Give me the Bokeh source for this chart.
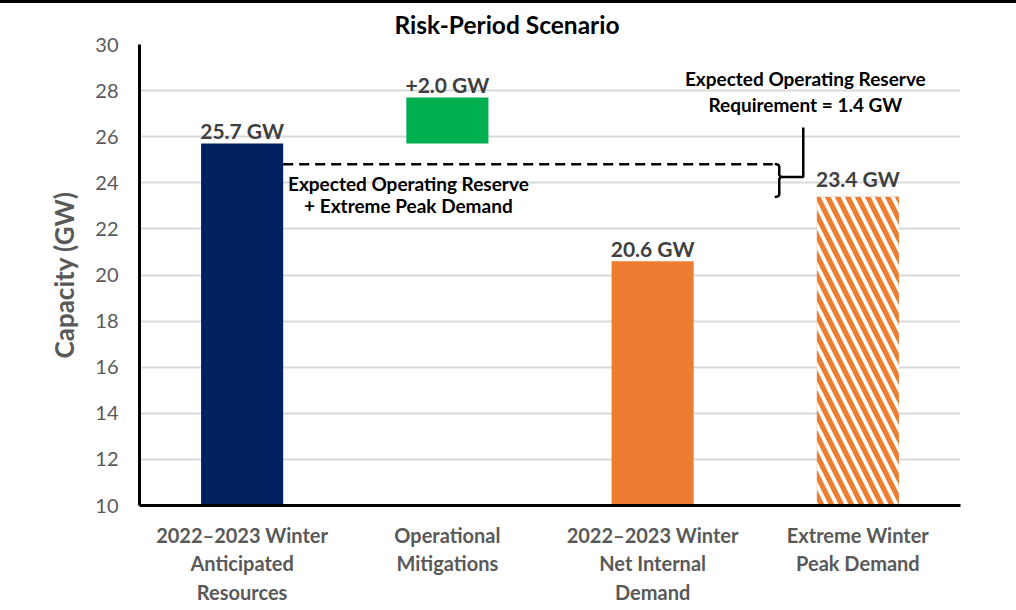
from bokeh.plotting import figure
from bokeh.models import Range1d, FixedTicker, Div, Label
from bokeh.layouts import column
from bokeh.embed import file_html
from bokeh.resources import INLINE

# ---- data ----
categories = ["2022\u20132023 Winter\nAnticipated\nResources",
              "Operational\nMitigations",
              "2022\u20132023 Winter\nNet Internal\nDemand",
              "Extreme Winter\nPeak Demand"]
bar_bottom = [10.0, 25.7, 10.0, 10.0]
bar_top = [25.7, 27.7, 20.6, 23.4]
bar_labels = ["25.7 GW", "+2.0 GW", "20.6 GW", "23.4 GW"]
reserve_requirement = 1.4
extreme_peak = 23.4
y_ticks = [10, 12, 14, 16, 18, 20, 22, 24, 26, 28, 30]

FONT = "Lato"
NAVY = "#002060"
GREEN = "#00B050"
ORANGE = "#ED7D31"
GRAY = "#595959"
DARK = "#404040"

xs = [i + 0.5 for i in range(len(categories))]
bw = 0.4

p = figure(width=1016, height=607, output_backend="svg", toolbar_location=None,
           x_range=Range1d(0, len(categories)), y_range=Range1d(10, 30),
           min_border_left=139, min_border_right=56, min_border_top=41,
           min_border_bottom=105)
p.outline_line_color = None
p.background_fill_color = "white"
p.border_fill_color = "white"

# title
p.title.text = "Risk-Period Scenario"
p.title.text_font = FONT
p.title.text_font_size = "24.5px"
p.title.text_font_style = "bold"
p.title.text_color = "black"
p.title.align = "left"
p.title.offset = 255
p.title.vertical_align = "top"
p.title.standoff = 8

# bars
p.vbar(x=xs[:3], width=bw, bottom=bar_bottom[:3], top=bar_top[:3],
       fill_color=[NAVY, GREEN, ORANGE], line_color=None)
p.vbar(x=xs[3:], width=bw, bottom=bar_bottom[3:], top=bar_top[3:],
       fill_color=ORANGE, line_color=None,
       hatch_pattern="left_diagonal_line", hatch_color="white",
       hatch_weight=3.8, hatch_scale=20)

# value labels
for i, (x, t, lab) in enumerate(zip(xs, bar_top, bar_labels)):
    p.add_layout(Label(x=x, y=t, text=lab, text_align="center",
                       text_baseline="alphabetic", y_offset=(18 if i == 3 else 13),
                       text_font=FONT, text_font_size="21px",
                       text_font_style="bold", text_color=DARK))

# dashed line: expected operating reserve + extreme peak demand
level = extreme_peak + reserve_requirement
x_start = xs[0] + bw / 2
x_end = 3.085
p.line([x_start, x_end], [level, level], line_color="black", line_width=2.5,
       line_dash="10 6")

# bracket
bx = 3.117
mid = level - 0.55
p.line([3.095, 3.112, bx, bx, 3.125, bx, bx, 3.112, 3.095],
       [level + 0.02, level - 0.02, level - 0.08, mid + 0.08, mid, mid - 0.08,
        extreme_peak + 0.08, extreme_peak + 0.02, extreme_peak - 0.02],
       line_color="black", line_width=2.5)
p.line([3.125, 3.234, 3.234], [mid, mid, 26.4], line_color="black", line_width=2.5)

# annotation texts
for txt, x, y in [("Expected Operating Reserve", 1.31, 23.98),
                  ("+ Extreme Peak Demand", 1.31, 23.02),
                  ("Expected Operating Reserve", 3.244, 28.52),
                  ("Requirement = 1.4 GW", 3.244, 27.4)]:
    p.add_layout(Label(x=x, y=y, text=txt, text_align="center",
                       text_baseline="middle", text_font=FONT,
                       text_font_size="19px", text_font_style="bold",
                       text_color="black"))

# axes
p.xaxis.ticker = FixedTicker(ticks=xs)
p.xaxis.major_label_overrides = {x: c for x, c in zip(xs, categories)}
p.xaxis.major_label_text_font = FONT
p.xaxis.major_label_text_font_size = "20px"
p.xaxis.major_label_text_font_style = "bold"
p.xaxis.major_label_text_color = GRAY
p.xaxis.major_label_standoff = 11
p.xaxis.major_tick_line_color = None
p.xaxis.minor_tick_line_color = None
p.xaxis.axis_line_color = "black"
p.xaxis.axis_line_width = 3

p.yaxis.ticker = FixedTicker(ticks=y_ticks)
p.yaxis.axis_label = "Capacity (GW)"
p.yaxis.axis_label_text_font = FONT
p.yaxis.axis_label_text_font_size = "26px"
p.yaxis.axis_label_text_font_style = "bold"
p.yaxis.axis_label_text_color = GRAY
p.yaxis.axis_label_standoff = 12
p.yaxis.major_label_text_font = FONT
p.yaxis.major_label_text_font_size = "20px"
p.yaxis.major_label_text_color = GRAY
p.yaxis.major_label_standoff = 15
p.yaxis.major_tick_line_color = None
p.yaxis.minor_tick_line_color = None
p.yaxis.axis_line_color = "black"
p.yaxis.axis_line_width = 3

p.xgrid.grid_line_color = None
p.ygrid.grid_line_color = "#D9D9D9"
p.ygrid.grid_line_width = 2

top_rule = Div(text="", width=1016, height=3, margin=(0, 0, 0, 0),
               styles={"background-color": "black"})
layout = column(top_rule, p, spacing=0)

open("out.html", "w").write(file_html(layout, INLINE))
